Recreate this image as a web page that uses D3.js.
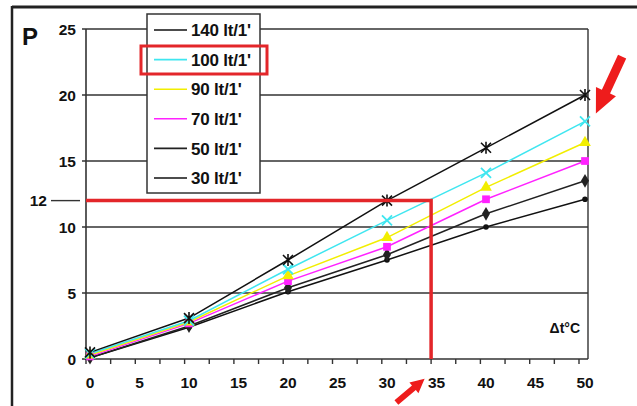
<!DOCTYPE html>
<html><head><meta charset="utf-8">
<script src="https://cdn.jsdelivr.net/npm/d3@7"></script>
<style>
html,body{margin:0;padding:0;background:#fff;}
svg{display:block;font-family:"Liberation Sans",Arial,sans-serif;}
</style></head>
<body>
<svg id="chart" width="637" height="406"></svg>
<script>
// ---- data ----
const xValues = [0, 10, 20, 30, 40, 50];
const seriesNames = ["140 lt/1'", "100 lt/1'", "90 lt/1'", "70 lt/1'", "50 lt/1'", "30 lt/1'"];
const seriesColors = ["#111111", "#3fe6f0", "#f2ee00", "#ff22ff", "#222222", "#111111"];
const seriesMarkers = ["asterisk", "cross", "triangle", "square", "diamond", "circle"];
const s140 = [0.5, 3.1, 7.5, 12.0, 16.0, 20.0];
const s100 = [0.4, 2.9, 6.8, 10.5, 14.1, 18.0];
const s90  = [0.3, 2.8, 6.3, 9.2, 13.0, 16.4];
const s70  = [0.2, 2.7, 5.9, 8.5, 12.1, 15.0];
const s50  = [0.1, 2.5, 5.4, 7.9, 11.0, 13.5];
const s30  = [0.1, 2.4, 5.1, 7.5, 10.0, 12.1];
const seriesValues = [s140, s100, s90, s70, s50, s30];
const xTickLabels = [0, 5, 10, 15, 20, 25, 30, 35, 40, 45, 50];
const xMinorTicks = d3.range(0, 50.01, 2.5);
const yTickLabels = [0, 5, 10, 15, 20, 25];
const markedPower = 12;
const markedDeltaT = 35;

// ---- scales ----
const svg = d3.select("#chart");
const xData = d3.scaleLinear().domain([0, 50]).range([90, 585]);
const xAxis = d3.scaleLinear().domain([0, 50]).range([86, 579]);
const y = d3.scaleLinear().domain([0, 25]).range([359, 29]);
const plotL = 86, plotR = 588, plotT = y(25), plotB = y(0);

// outer frame (top and left)
svg.append("line").attr("x1", 12).attr("x2", 637).attr("y1", 7).attr("y2", 7)
  .attr("stroke", "#222").attr("stroke-width", 3);
svg.append("line").attr("x1", 12).attr("x2", 12).attr("y1", 6).attr("y2", 406)
  .attr("stroke", "#222").attr("stroke-width", 2.5);

// P label
svg.append("text").attr("x", 22).attr("y", 45).text("P")
  .attr("font-size", 24).attr("font-weight", "bold").attr("fill", "#111");

// gridlines + left ticks
const gridG = svg.append("g");
yTickLabels.forEach(v => {
  gridG.append("line").attr("x1", 82).attr("x2", plotR).attr("y1", y(v)).attr("y2", y(v))
    .attr("stroke", "#333").attr("stroke-width", 1.4);
  svg.append("text").attr("x", 76).attr("y", y(v)).attr("dy", "0.36em")
    .attr("text-anchor", "end").attr("font-size", 15.5).attr("font-weight", "bold")
    .attr("fill", "#111").text(v);
});
// frame verticals
gridG.append("line").attr("x1", plotL).attr("x2", plotL).attr("y1", plotT).attr("y2", plotB + 1)
  .attr("stroke", "#333").attr("stroke-width", 1.6);
gridG.append("line").attr("x1", plotR).attr("x2", plotR).attr("y1", plotT).attr("y2", plotB)
  .attr("stroke", "#333").attr("stroke-width", 1.4);

// bottom ticks
xMinorTicks.forEach(v => {
  svg.append("line").attr("x1", xAxis(v)).attr("x2", xAxis(v)).attr("y1", plotB).attr("y2", plotB + 5)
    .attr("stroke", "#333").attr("stroke-width", 1.4);
});
xTickLabels.forEach(v => {
  svg.append("text").attr("x", xData(v)).attr("y", 388).attr("text-anchor", "middle")
    .attr("font-size", 15.5).attr("font-weight", "bold").attr("fill", "#111").text(v);
});

// 12 label with leader
svg.append("text").attr("x", 47).attr("y", y(markedPower)).attr("dy", "0.36em")
  .attr("text-anchor", "end").attr("font-size", 15.5).attr("font-weight", "bold")
  .attr("fill", "#111").text(markedPower);
svg.append("line").attr("x1", 51).attr("x2", 80).attr("y1", y(markedPower)).attr("y2", y(markedPower))
  .attr("stroke", "#333").attr("stroke-width", 1.4);

// Δt°C label
svg.append("text").attr("x", 580).attr("y", 333).attr("text-anchor", "end")
  .attr("font-size", 14).attr("font-weight", "bold").attr("fill", "#111").text("Δt°C");

// series lines
const line = d3.line().x((d, i) => xData(xValues[i])).y(d => y(d));
const order = [5, 4, 3, 2, 1, 0];
order.forEach(k => {
  svg.append("path").datum(seriesValues[k]).attr("d", line)
    .attr("fill", "none").attr("stroke", seriesColors[k]).attr("stroke-width", 1.5);
});

function drawMarker(g, type, cx, cy, color) {
  if (type === "asterisk") {
    const r = 5;
    g.append("path").attr("d", `M${cx-r},${cy-r}L${cx+r},${cy+r}M${cx-r},${cy+r}L${cx+r},${cy-r}M${cx},${cy-r-1}L${cx},${cy+r+1}`)
      .attr("stroke", color).attr("stroke-width", 1.6);
  } else if (type === "cross") {
    const r = 5;
    g.append("path").attr("d", `M${cx-r},${cy-r}L${cx+r},${cy+r}M${cx-r},${cy+r}L${cx+r},${cy-r}`)
      .attr("stroke", color).attr("stroke-width", 1.8);
  } else if (type === "triangle") {
    g.append("path").attr("d", d3.symbol(d3.symbolTriangle, 60)()).attr("transform", `translate(${cx},${cy})`)
      .attr("fill", color);
  } else if (type === "square") {
    g.append("path").attr("d", d3.symbol(d3.symbolSquare, 60)()).attr("transform", `translate(${cx},${cy})`)
      .attr("fill", color);
  } else if (type === "diamond") {
    g.append("path").attr("d", d3.symbol(d3.symbolDiamond, 55)()).attr("transform", `translate(${cx},${cy})`)
      .attr("fill", color);
  } else {
    g.append("circle").attr("cx", cx).attr("cy", cy).attr("r", 2.8).attr("fill", color);
  }
}
const markG = svg.append("g");
order.forEach(k => {
  seriesValues[k].forEach((v, i) => drawMarker(markG, seriesMarkers[k], xData(xValues[i]), y(v), seriesColors[k]));
});

// red guide lines
svg.append("path")
  .attr("d", `M${plotL},${y(markedPower)}H${xAxis(markedDeltaT)}V${plotB}`)
  .attr("fill", "none").attr("stroke", "#e3262a").attr("stroke-width", 3.5);

// legend
const legX = 147, legY = 14, legW = 113, legH = 179;
svg.append("rect").attr("x", legX).attr("y", legY).attr("width", legW).attr("height", legH)
  .attr("fill", "#fff").attr("stroke", "#333").attr("stroke-width", 1.5);
const legStep = 29.6;
seriesNames.forEach((name, k) => {
  const ly = 30 + k * legStep;
  svg.append("line").attr("x1", 154).attr("x2", 187).attr("y1", ly).attr("y2", ly)
    .attr("stroke", seriesColors[k]).attr("stroke-width", 1.6);
  svg.append("text").attr("x", 191).attr("y", ly).attr("dy", "0.36em")
    .attr("font-size", 17).attr("font-weight", "bold").attr("letter-spacing", -0.2)
    .attr("fill", "#111").text(name);
});
// highlight box round 100 lt/1'
svg.append("rect").attr("x", 141).attr("y", 46).attr("width", 126).attr("height", 28)
  .attr("fill", "none").attr("stroke", "#e3262a").attr("stroke-width", 3);

// arrows (in data coordinates)
function arrow(tail, tip, shaftW, headW, headL) {
  const x0 = xData(tail[0]), y0 = y(tail[1]), x1 = xData(tip[0]), y1 = y(tip[1]);
  const dx = x1 - x0, dy = y1 - y0, L = Math.hypot(dx, dy);
  const ux = dx / L, uy = dy / L, px = -uy, py = ux;
  const bx = x1 - ux * headL, by = y1 - uy * headL;
  const pts = [
    [x0 + px * shaftW / 2, y0 + py * shaftW / 2],
    [bx + px * shaftW / 2, by + py * shaftW / 2],
    [bx + px * headW / 2, by + py * headW / 2],
    [x1, y1],
    [bx - px * headW / 2, by - py * headW / 2],
    [bx - px * shaftW / 2, by - py * shaftW / 2],
    [x0 - px * shaftW / 2, y0 - py * shaftW / 2]
  ];
  svg.append("polygon").attr("points", pts.map(p => p.join(",")).join(" ")).attr("fill", "#ee1c1c");
}
arrow([53.75, 22.9], [51.1, 18.6], 9, 22, 24);
arrow([30.95, -3.3], [33.8, -1.5], 6, 14, 14);
</script>
</body></html>
